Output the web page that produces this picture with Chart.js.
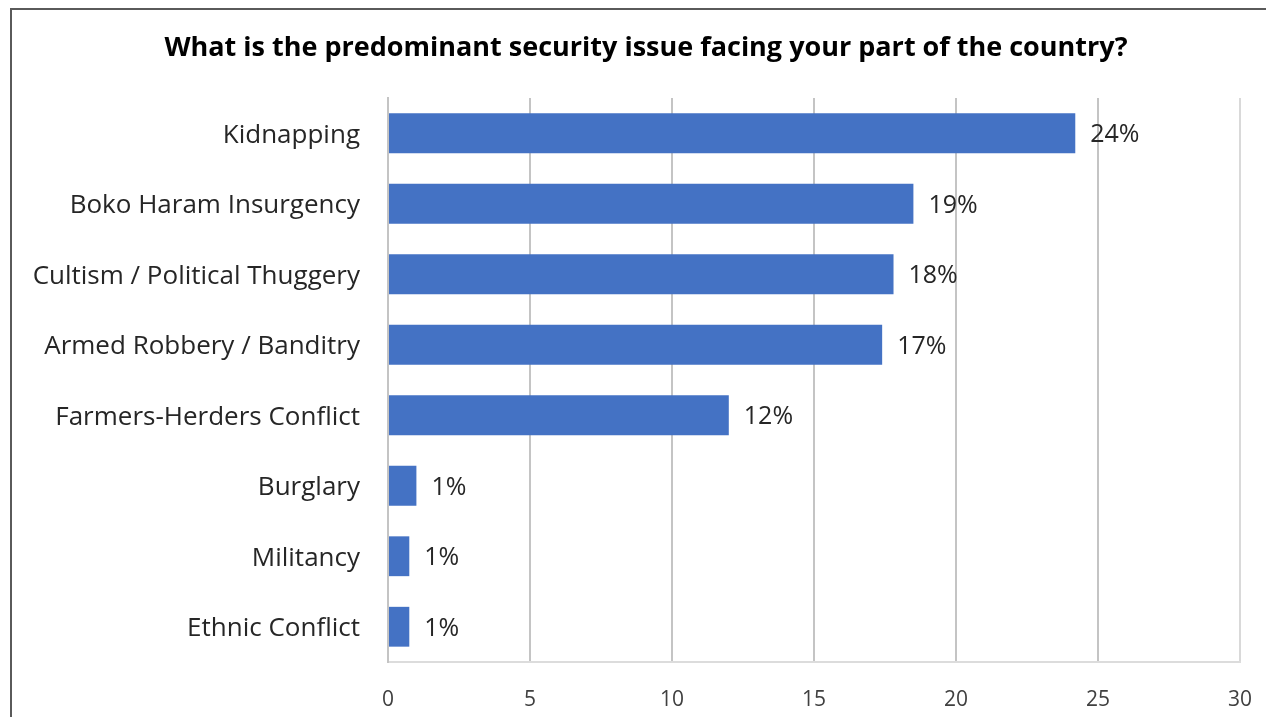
<!DOCTYPE html>
<html>
<head>
<meta charset="utf-8">
<title>Security issues</title>
<script src="https://cdn.jsdelivr.net/npm/chart.js@4"></script>
<style>
  html, body { margin: 0; padding: 0; background: #fff; }
  body { width: 1266px; height: 717px; overflow: hidden; position: relative; }
  .cadre {
    position: absolute; left: 10px; top: 8px; width: 1300px; height: 760px;
    border-left: 2px solid #5a5a5a; border-top: 2px solid #5a5a5a;
  }
  #graphique { position: absolute; left: 0; top: 0; }
</style>
</head>
<body>
<div class="cadre"></div>
<canvas id="graphique" width="1266" height="717"></canvas>
<script>
// ==========================================
//  DONNÉES
// ==========================================
const categories = [
    'Kidnapping',
    'Boko Haram Insurgency',
    'Cultism / Political Thuggery',
    'Armed Robbery / Banditry',
    'Farmers-Herders Conflict',
    'Burglary',
    'Militancy',
    'Ethnic Conflict'
];
const pourcentages = [24.2, 18.5, 17.8, 17.4, 12.0, 1.0, 0.75, 0.75];
const graduations = [0, 5, 10, 15, 20, 25, 30];
const titre = 'What is the predominant security issue facing your part of the country?';

const POLICE = "'Open Sans', 'Liberation Sans', sans-serif";

// titre centré sur le cadre + étiquettes de valeur au bout des barres
const habillage = {
    id: 'habillage',
    afterDraw(chart) {
        const ctx = chart.ctx;
        const meta = chart.getDatasetMeta(0);
        ctx.save();
        ctx.textBaseline = 'middle';

        ctx.font = 'bold 27px ' + POLICE;
        ctx.fillStyle = '#000';
        ctx.textAlign = 'center';
        ctx.fillText(titre, 646, 48);

        ctx.font = '25px ' + POLICE;
        ctx.fillStyle = '#262626';
        ctx.textAlign = 'left';
        meta.data.forEach((barre, i) => {
            ctx.fillText(Math.round(pourcentages[i]) + '%', barre.x + 15, barre.y + 2);
        });
        ctx.restore();
    }
};

const sansMarges = axe => {
    axe.paddingLeft = 0; axe.paddingRight = 0;
    axe.paddingTop = 0; axe.paddingBottom = 0;
};

new Chart(document.getElementById('graphique'), {
    type: 'bar',
    data: {
        labels: categories,
        datasets: [{
            data: pourcentages,
            backgroundColor: '#4472c4',
            borderWidth: 0,
            categoryPercentage: 1,
            barPercentage: 0.565
        }]
    },
    options: {
        indexAxis: 'y',
        responsive: false,
        animation: false,
        layout: { padding: { top: 98, right: 26, bottom: 0, left: 0 } },
        plugins: {
            legend: { display: false },
            tooltip: { enabled: false },
            title: { display: false }
        },
        scales: {
            x: {
                min: 0,
                max: 30,
                afterBuildTicks: axe => { axe.ticks = graduations.map(v => ({ value: v })); },
                afterFit: axe => { sansMarges(axe); axe.height = 55; },
                grid: {
                    drawTicks: false,
                    lineWidth: 2,
                    color: c => c.index === graduations.length - 1 ? '#d9d9d9' : '#c4c4c4'
                },
                border: { display: true, color: '#dcdcdc', width: 2 },
                ticks: { color: '#404040', padding: 25, font: { family: POLICE, size: 21 } }
            },
            y: {
                afterFit: axe => { sansMarges(axe); axe.width = 388; },
                grid: { display: false, drawTicks: false },
                border: { display: true, color: '#c4c4c4', width: 2 },
                ticks: { color: '#262626', padding: 28, labelOffset: 2, font: { family: POLICE, size: 26 } }
            }
        }
    },
    plugins: [habillage]
});
</script>
</body>
</html>
